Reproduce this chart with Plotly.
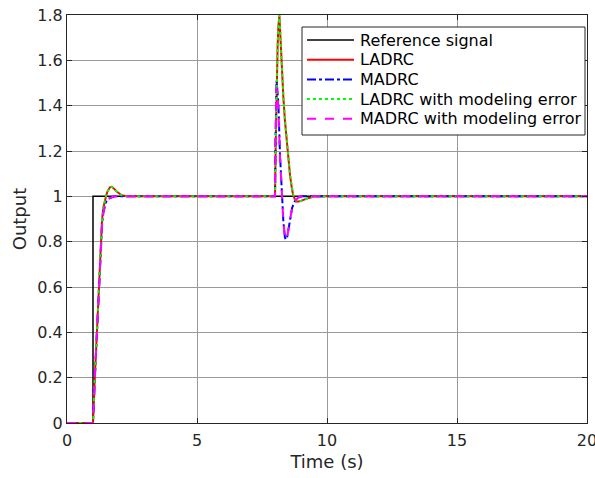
import plotly.graph_objects as go

# ---- data ----
t_ref = [0, 1, 1, 20]
y_ref = [0, 0, 1, 1]

t_ladrc = [0, 1.0, 1.07, 1.15, 1.22, 1.29, 1.35, 1.40, 1.45, 1.50, 1.55, 1.60, 1.65,
           1.72, 1.80, 1.90, 2.00, 2.10, 2.30, 2.6, 8.0, 8.03, 8.06, 8.10, 8.13, 8.17,
           8.21, 8.26, 8.32, 8.38, 8.45, 8.51, 8.58, 8.65, 8.70, 8.77, 8.85, 8.95,
           9.1, 9.3, 9.5, 10, 20]
y_ladrc = [0, 0, 0.2, 0.4, 0.6, 0.8, 0.9, 0.95, 0.98, 1.0, 1.02, 1.032, 1.04,
           1.042, 1.035, 1.022, 1.012, 1.005, 1.0, 1.0, 1.0, 1.25, 1.485, 1.66, 1.75, 1.797,
           1.70, 1.56, 1.44, 1.336, 1.24, 1.16, 1.09, 1.035, 1.005, 0.985, 0.976, 0.978,
           0.985, 0.993, 0.999, 1.0, 1.0]
y_ladrc_err = [0, 0, 0.2, 0.4, 0.6, 0.8, 0.9, 0.95, 0.98, 1.0, 1.02, 1.032, 1.04,
               1.042, 1.035, 1.022, 1.012, 1.005, 1.0, 1.0, 1.0, 1.25, 1.49, 1.665, 1.755, 1.80,
               1.705, 1.565, 1.445, 1.34, 1.245, 1.165, 1.095, 1.04, 1.008, 0.986, 0.976, 0.978,
               0.985, 0.993, 0.999, 1.0, 1.0]

t_madrc = [0, 1.0, 1.07, 1.15, 1.22, 1.29, 1.35, 1.40, 1.45, 1.50, 1.60, 1.70, 1.80,
           1.90, 2.0, 8.0, 8.02, 8.04, 8.06, 8.09, 8.13, 8.19, 8.26, 8.32, 8.38, 8.41,
           8.46, 8.52, 8.58, 8.66, 8.77, 8.9, 9.03, 20]
y_madrc = [0, 0, 0.2, 0.4, 0.6, 0.8, 0.88, 0.93, 0.96, 0.975, 0.99, 0.996, 0.999,
           1.0, 1.0, 1.0, 1.25, 1.45, 1.51, 1.47, 1.41, 1.19, 1.026, 0.893, 0.82, 0.81,
           0.815, 0.86, 0.91, 0.95, 0.98, 0.995, 1.0, 1.0]
y_madrc_err = [0, 0, 0.2, 0.4, 0.6, 0.8, 0.88, 0.93, 0.96, 0.975, 0.99, 0.996, 0.999,
               1.0, 1.0, 1.0, 1.24, 1.43, 1.48, 1.45, 1.39, 1.18, 1.02, 0.89, 0.82, 0.81,
               0.815, 0.86, 0.91, 0.95, 0.98, 0.995, 1.0, 1.0]

t_edge = [19.8]
y_edge_ladrc_err = [1.555]
y_edge_madrc_err = [1.51]

x_ticks = [0, 5, 10, 15, 20]
y_ticks = [0, 0.2, 0.4, 0.6, 0.8, 1, 1.2, 1.4, 1.6, 1.8]

legend_names = ["Reference signal", "LADRC", "MADRC",
                "LADRC with modeling error", "MADRC with modeling error"]

FONT = "DejaVu Sans"

# (name, x, y, colour, dash, width)
series = [
    (legend_names[0], t_ref, y_ref, "black", "solid", 1.5),
    (legend_names[1], t_ladrc, y_ladrc, "#ff0000", "solid", 2),
    (legend_names[2], t_madrc, y_madrc, "#0000ff", "dashdot", 2),
    (legend_names[3], t_ladrc, y_ladrc_err, "#00ff00", "dot", 2),
    (legend_names[4], t_madrc, y_madrc_err, "#ff00ff", "dash", 2),
]

fig = go.Figure()
for name, xs, ys, col, dash, w in series:
    fig.add_trace(go.Scatter(x=xs, y=ys, mode="lines", name=name, showlegend=False,
                             line=dict(color=col, width=w, dash=dash)))
fig.add_trace(go.Scatter(x=t_edge, y=y_edge_ladrc_err, mode="markers", showlegend=False,
                         marker=dict(color="#00ff00", size=3, symbol="square")))
fig.add_trace(go.Scatter(x=t_edge, y=y_edge_madrc_err, mode="markers", showlegend=False,
                         marker=dict(color="#ff00ff", size=3, symbol="square")))

axis_common = dict(showline=True, linecolor="#262626", linewidth=1, mirror="ticks",
                   ticks="inside", ticklen=5, tickcolor="#262626", automargin=False,
                   ticklabeloverflow="allow",
                   showgrid=True, gridcolor="#9a9a9a", gridwidth=1, zeroline=False,
                   tickfont=dict(family=FONT, size=16, color="#262626"))

fig.update_xaxes(range=[0, 20], tickvals=x_ticks, ticklabelstandoff=3,
                 title=dict(text="Time (s)", font=dict(family=FONT, size=18, color="#262626"),
                            standoff=6),
                 **axis_common)
fig.update_yaxes(range=[0, 1.8], tickvals=y_ticks,
                 title=dict(text="Output", font=dict(family=FONT, size=18, color="#262626"),
                            standoff=6),
                 **axis_common)

# ---- legend box (MATLAB style, compact rows) ----
L, R, T, B = 67, 587, 15, 423          # plot-area pixel edges
W, H = R - L, B - T
px = lambda v: (v - L) / W
py = lambda v: (B - v) / H

shapes = [dict(type="rect", xref="paper", yref="paper", layer="above",
               x0=px(302), x1=px(585), y0=py(135), y1=py(27),
               line=dict(color="#262626", width=1), fillcolor="white")]
annotations = []
row_y = [40, 59.7, 79.4, 99.1, 118.8]
for (name, xs, ys, col, dash, w), ry in zip(series, row_y):
    shapes.append(dict(type="line", xref="paper", yref="paper", layer="above",
                       x0=px(307), x1=px(354), y0=py(ry), y1=py(ry),
                       line=dict(color=col, width=w, dash=dash)))
    annotations.append(dict(xref="paper", yref="paper", x=px(358), y=py(ry),
                            xanchor="left", yanchor="middle", showarrow=False,
                            text=name, font=dict(family=FONT, size=16, color="black")))

fig.update_layout(
    width=595, height=478,
    margin=dict(l=L, r=595 - R, t=T, b=478 - B),
    plot_bgcolor="white", paper_bgcolor="white",
    font=dict(family=FONT, color="#262626"),
    showlegend=False,
    shapes=shapes, annotations=annotations,
)

fig.write_html("out.html")
